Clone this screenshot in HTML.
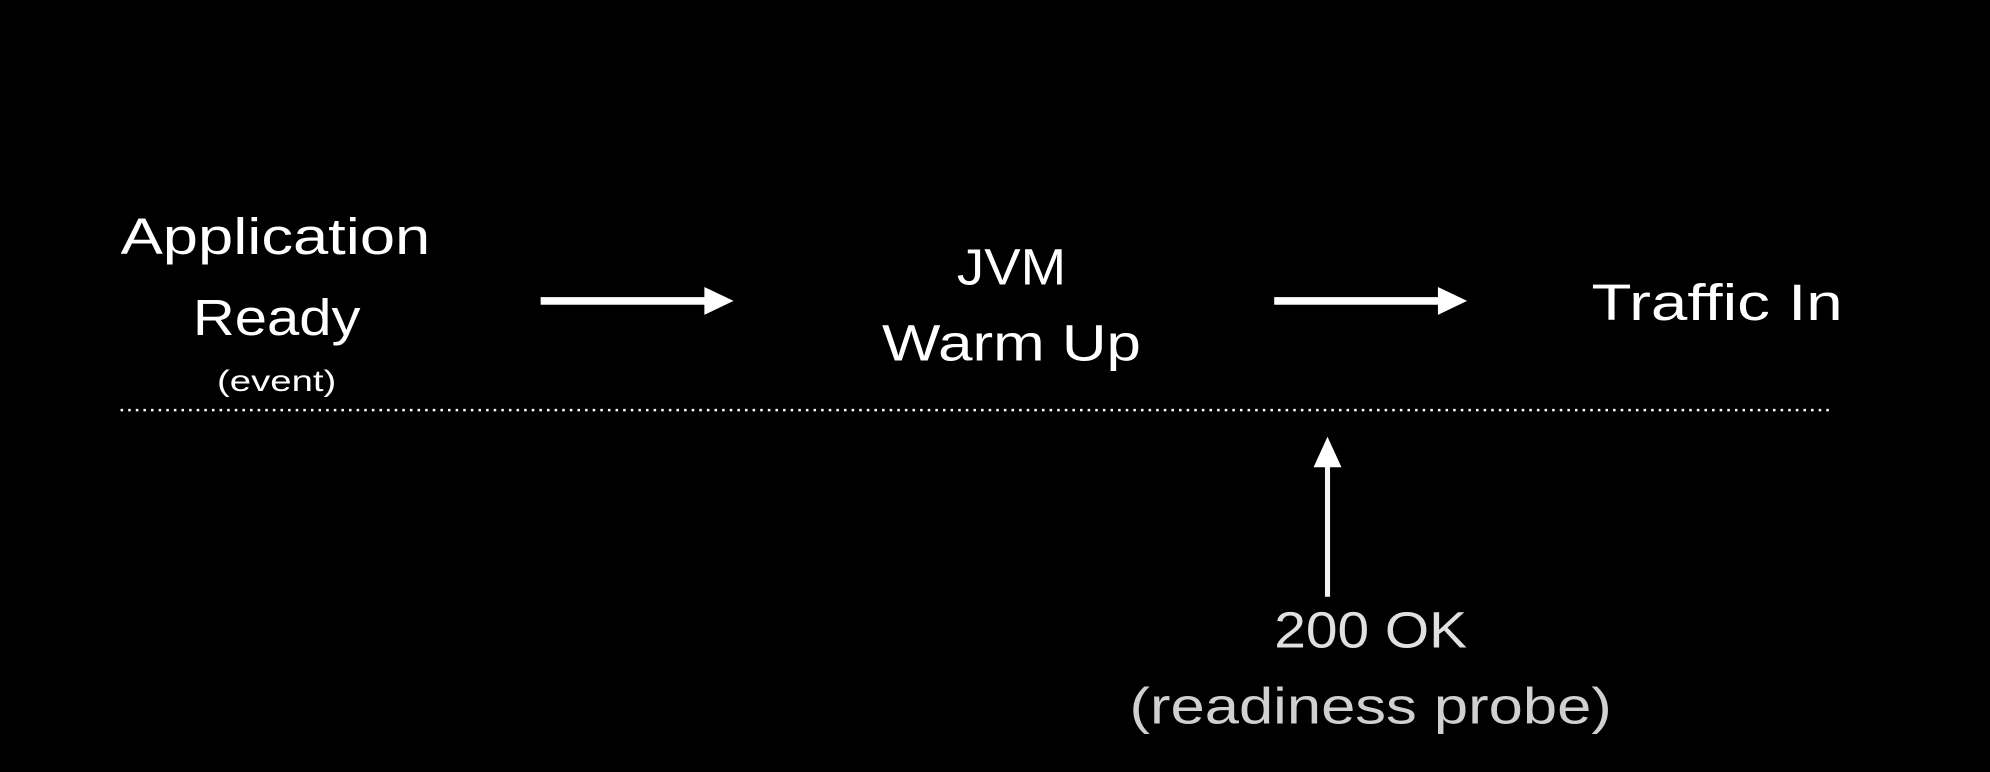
<!DOCTYPE html>
<html><head><style>html,body{margin:0;padding:0;background:#000;overflow:hidden}svg{display:block}</style></head>
<body>
<svg width="1990" height="772" viewBox="0 0 1568 608" preserveAspectRatio="none" xmlns="http://www.w3.org/2000/svg">
<rect width="1568" height="608" fill="#000"/>
<g font-family="Liberation Sans, sans-serif" fill="#fff" text-anchor="middle">
<text x="217" y="200" font-size="40" textLength="244" lengthAdjust="spacingAndGlyphs">Application</text>
<text x="218" y="264" font-size="40" textLength="132" lengthAdjust="spacingAndGlyphs">Ready</text>
<text x="218" y="308" font-size="23" textLength="94" lengthAdjust="spacingAndGlyphs">(event)</text>
<text x="797" y="224" font-size="40" textLength="86" lengthAdjust="spacingAndGlyphs">JVM</text>
<text x="797" y="284" font-size="40" textLength="204" lengthAdjust="spacingAndGlyphs">Warm Up</text>
<text x="1353" y="252" font-size="40" textLength="198" lengthAdjust="spacingAndGlyphs">Traffic In</text>
<text x="1080" y="510" font-size="40" fill="#e0e0e0" textLength="152" lengthAdjust="spacingAndGlyphs">200 OK</text>
<text x="1080" y="570" font-size="40" fill="#d0d0d0" textLength="380" lengthAdjust="spacingAndGlyphs">(readiness probe)</text>
</g>
<rect x="426" y="234" width="132" height="6" fill="#fff"/>
<polygon points="555,226 578,237 555,248" fill="#fff"/>
<rect x="1004" y="234" width="132" height="6" fill="#fff"/>
<polygon points="1133,226 1156,237 1133,248" fill="#fff"/>
<line x1="95" y1="323" x2="1445" y2="323" stroke="#fff" stroke-width="2" stroke-dasharray="2,4"/>
<rect x="1044" y="366" width="4" height="104" fill="#f4f4f4"/>
<polygon points="1046,344 1035,368 1057,368" fill="#fff"/>
</svg>
</body></html>
